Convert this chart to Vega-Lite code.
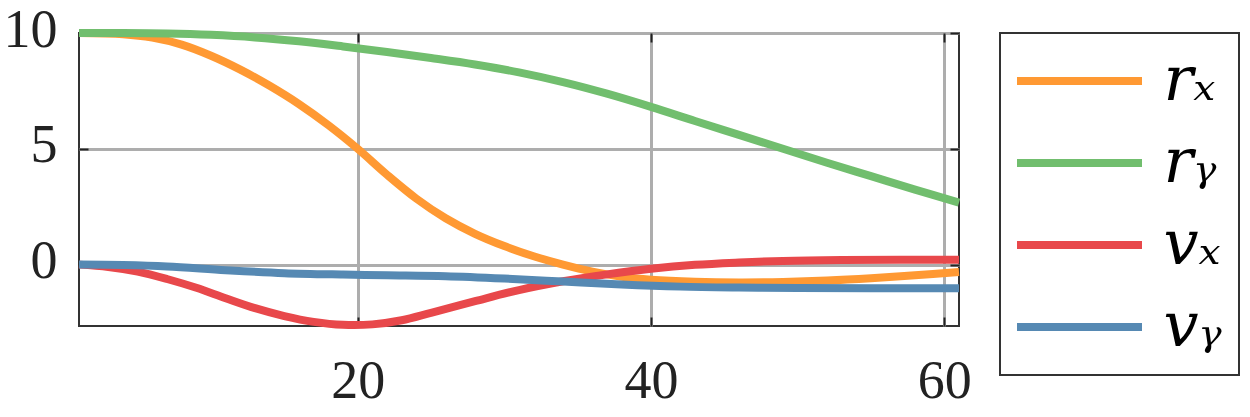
{
  "$schema": "https://vega.github.io/schema/vega-lite/v6.json",
  "width": 880,
  "height": 293,
  "autosize": {"type": "none"},
  "padding": {"left": 79, "top": 33, "right": 291, "bottom": 91},
  "background": "white",
  "config": {
    "view": {"stroke": "#333333", "strokeWidth": 2},
    "font": "Liberation Serif",
    "axis": {
      "grid": true,
      "gridColor": "#adadad",
      "gridWidth": 3,
      "gridOpacity": 1,
      "domain": false,
      "tickColor": "#222222",
      "tickWidth": 2,
      "tickSize": -9,
      "labelFont": "Liberation Serif",
      "labelFontSize": 54,
      "labelColor": "#222222",
      "title": null
    },
    "legend": {
      "orient": "none",
      "legendX": 921,
      "legendY": 0,
      "symbolType": "M -2.5 0 L 2.5 0",
      "symbolSize": 2500,
      "symbolOffset": 31.5,
      "symbolStrokeWidth": 8,
      "symbolOpacity": 1,
      "labelFont": "DejaVu Serif",
      "labelFontStyle": "italic",
      "labelFontSize": 62,
      "labelColor": "black",
      "labelOffset": 53,
      "strokeColor": "#333333",
      "strokeWidth": 2,
      "fillColor": "white",
      "padding": 17,
      "rowPadding": 20,
      "title": null
    }
  },
  "data": {
    "values": [
      {"series": "rx", "t": 1, "value": 10},
      {"series": "rx", "t": 4, "value": 9.95},
      {"series": "rx", "t": 6, "value": 9.8},
      {"series": "rx", "t": 8, "value": 9.5},
      {"series": "rx", "t": 10, "value": 9.02},
      {"series": "rx", "t": 12, "value": 8.42},
      {"series": "rx", "t": 14, "value": 7.72},
      {"series": "rx", "t": 16, "value": 6.93},
      {"series": "rx", "t": 18, "value": 6.02},
      {"series": "rx", "t": 20, "value": 5.0},
      {"series": "rx", "t": 22, "value": 3.88},
      {"series": "rx", "t": 24, "value": 2.85},
      {"series": "rx", "t": 26, "value": 2.0},
      {"series": "rx", "t": 28, "value": 1.33},
      {"series": "rx", "t": 30, "value": 0.8},
      {"series": "rx", "t": 32, "value": 0.36},
      {"series": "rx", "t": 34, "value": 0.0},
      {"series": "rx", "t": 36, "value": -0.3},
      {"series": "rx", "t": 38, "value": -0.52},
      {"series": "rx", "t": 40, "value": -0.65},
      {"series": "rx", "t": 43, "value": -0.74},
      {"series": "rx", "t": 46, "value": -0.77},
      {"series": "rx", "t": 49, "value": -0.75},
      {"series": "rx", "t": 52, "value": -0.69},
      {"series": "rx", "t": 55, "value": -0.59},
      {"series": "rx", "t": 58, "value": -0.46},
      {"series": "rx", "t": 61, "value": -0.32},
      {"series": "ry", "t": 1, "value": 10},
      {"series": "ry", "t": 4, "value": 10},
      {"series": "ry", "t": 7, "value": 9.98},
      {"series": "ry", "t": 10, "value": 9.92},
      {"series": "ry", "t": 13, "value": 9.81},
      {"series": "ry", "t": 16, "value": 9.64},
      {"series": "ry", "t": 19, "value": 9.42},
      {"series": "ry", "t": 22, "value": 9.18},
      {"series": "ry", "t": 25, "value": 8.92},
      {"series": "ry", "t": 28, "value": 8.64},
      {"series": "ry", "t": 31, "value": 8.3},
      {"series": "ry", "t": 34, "value": 7.88},
      {"series": "ry", "t": 37, "value": 7.38},
      {"series": "ry", "t": 40, "value": 6.81},
      {"series": "ry", "t": 43, "value": 6.2},
      {"series": "ry", "t": 46, "value": 5.6},
      {"series": "ry", "t": 49, "value": 5.0},
      {"series": "ry", "t": 52, "value": 4.4},
      {"series": "ry", "t": 55, "value": 3.82},
      {"series": "ry", "t": 58, "value": 3.24},
      {"series": "ry", "t": 61, "value": 2.68},
      {"series": "vx", "t": 1, "value": 0},
      {"series": "vx", "t": 3, "value": -0.1},
      {"series": "vx", "t": 5, "value": -0.3},
      {"series": "vx", "t": 7, "value": -0.62},
      {"series": "vx", "t": 9, "value": -1.0},
      {"series": "vx", "t": 11, "value": -1.45},
      {"series": "vx", "t": 13, "value": -1.88},
      {"series": "vx", "t": 15, "value": -2.22},
      {"series": "vx", "t": 17, "value": -2.47},
      {"series": "vx", "t": 19, "value": -2.6},
      {"series": "vx", "t": 21, "value": -2.58},
      {"series": "vx", "t": 23, "value": -2.4},
      {"series": "vx", "t": 25, "value": -2.08},
      {"series": "vx", "t": 28, "value": -1.58},
      {"series": "vx", "t": 31, "value": -1.1},
      {"series": "vx", "t": 34, "value": -0.72},
      {"series": "vx", "t": 37, "value": -0.42},
      {"series": "vx", "t": 40, "value": -0.18},
      {"series": "vx", "t": 43, "value": -0.01},
      {"series": "vx", "t": 46, "value": 0.09},
      {"series": "vx", "t": 49, "value": 0.16},
      {"series": "vx", "t": 53, "value": 0.2},
      {"series": "vx", "t": 57, "value": 0.21},
      {"series": "vx", "t": 61, "value": 0.21},
      {"series": "vy", "t": 1, "value": 0},
      {"series": "vy", "t": 4, "value": -0.02},
      {"series": "vy", "t": 7, "value": -0.08},
      {"series": "vy", "t": 11, "value": -0.24},
      {"series": "vy", "t": 15, "value": -0.37},
      {"series": "vy", "t": 19, "value": -0.43},
      {"series": "vy", "t": 22, "value": -0.46},
      {"series": "vy", "t": 26, "value": -0.5},
      {"series": "vy", "t": 30, "value": -0.6},
      {"series": "vy", "t": 34, "value": -0.73},
      {"series": "vy", "t": 38, "value": -0.86},
      {"series": "vy", "t": 42, "value": -0.95},
      {"series": "vy", "t": 46, "value": -0.99},
      {"series": "vy", "t": 50, "value": -1.01},
      {"series": "vy", "t": 55, "value": -1.02},
      {"series": "vy", "t": 61, "value": -1.02}
    ]
  },
  "layer": [
    {
      "mark": {"type": "line", "strokeWidth": 8, "interpolate": "catmull-rom", "clip": false},
      "encoding": {
        "x": {
          "field": "t", "type": "quantitative",
          "scale": {"domain": [1, 61], "nice": false, "zero": false},
          "axis": {"orient": "bottom", "values": [20, 40, 60], "labelPadding": 37}
        },
        "y": {
          "field": "value", "type": "quantitative",
          "scale": {"domain": [-2.65, 10], "nice": false, "zero": false},
          "axis": {"orient": "left", "values": [0, 5, 10], "labelPadding": 31, "labelOffset": -3}
        },
        "color": {
          "field": "series", "type": "nominal",
          "scale": {"domain": ["rx", "ry", "vx", "vy"], "range": ["#ff9933", "#71be6e", "#e8484b", "#5689b3"]},
          "legend": {
            "labelExpr": "datum.label == 'rx' ? 'rₓ' : datum.label == 'ry' ? 'rᵧ' : datum.label == 'vx' ? 'vₓ' : 'vᵧ'"
          }
        }
      }
    },
    {
      "mark": {"type": "line", "strokeOpacity": 0},
      "encoding": {
        "x": {
          "field": "t", "type": "quantitative",
          "axis": {"orient": "top", "values": [20, 40, 60], "labels": false, "grid": false}
        },
        "y": {
          "field": "value", "type": "quantitative",
          "axis": {"orient": "right", "values": [0, 5, 10], "labels": false, "grid": false}
        },
        "detail": {"field": "series", "type": "nominal"}
      }
    }
  ]
}
